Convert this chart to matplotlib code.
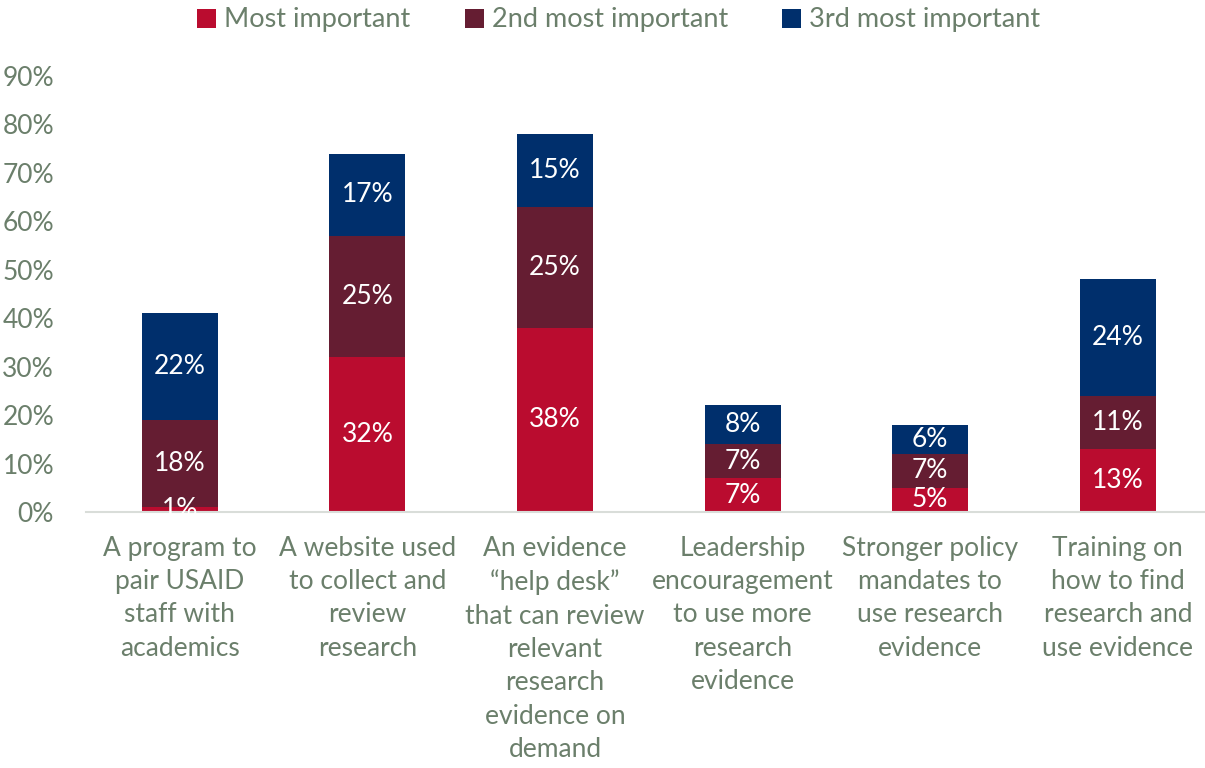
import matplotlib
matplotlib.use("Agg")
import matplotlib.pyplot as plt
from matplotlib.patches import Patch

categories = [
    "A program to\npair USAID\nstaff with\nacademics",
    "A website used\nto collect and\nreview\nresearch",
    "An evidence\n\u201chelp desk\u201d\nthat can review\nrelevant\nresearch\nevidence on\ndemand",
    "Leadership\nencouragement\nto use more\nresearch\nevidence",
    "Stronger policy\nmandates to\nuse research\nevidence",
    "Training on\nhow to find\nresearch and\nuse evidence",
]
series_names = ["Most important", "2nd most important", "3rd most important"]
most = [1, 32, 38, 7, 5, 13]
second = [18, 25, 25, 7, 7, 11]
third = [22, 17, 15, 8, 6, 24]
yticks = [0, 10, 20, 30, 40, 50, 60, 70, 80, 90]

colors = ["#BA0C2F", "#651D32", "#002F6C"]
text_color = "#6B7F6B"
font = "Lato"

fig = plt.figure(figsize=(12.05, 7.68), dpi=100)
ax = fig.add_axes([86 / 1205, 1 - 512 / 768, 1119 / 1205, (512 - 76) / 768])

x = list(range(len(categories)))
width = 0.405
bottom = [0] * len(categories)
for name, vals, col in zip(series_names, [most, second, third], colors):
    ax.bar(x, vals, width, bottom=bottom, color=col, label=name, zorder=2)
    for xi, b, v in zip(x, bottom, vals):
        ax.text(xi, b + v / 2, f"{v}%", ha="center", va="center",
                color="white", fontsize=19, family=font, zorder=3)
    bottom = [b + v for b, v in zip(bottom, vals)]

ax.set_ylim(0, 90)
ax.set_xlim(-0.5, -0.5 + 1119 / 187.6)
ax.set_yticks(yticks)
ax.set_yticklabels([f"{t}%" for t in yticks])
ax.set_xticks(x)
ax.set_xticklabels(categories, linespacing=1.42)
for lbl in ax.get_xticklabels() + ax.get_yticklabels():
    lbl.set_family(font)
    lbl.set_fontsize(19)
    lbl.set_color(text_color)
ax.tick_params(axis="both", length=0)
ax.tick_params(axis="y", pad=23)
ax.tick_params(axis="x", pad=17)
for s in ["top", "right", "left"]:
    ax.spines[s].set_visible(False)
ax.spines["bottom"].set_color("#D9DDD9")
ax.spines["bottom"].set_linewidth(1.5)

handles = [Patch(facecolor=c, edgecolor="none") for c in colors]
leg = fig.legend(handles, series_names, loc="center", bbox_to_anchor=(619 / 1205, 1 - 20 / 768),
                 ncol=3, frameon=False, handlelength=0.7, handleheight=0.7,
                 handletextpad=0.3, columnspacing=2.0,
                 prop={"family": font, "size": 19.5})
for t in leg.get_texts():
    t.set_color(text_color)

fig.savefig("out.png", dpi=100)
